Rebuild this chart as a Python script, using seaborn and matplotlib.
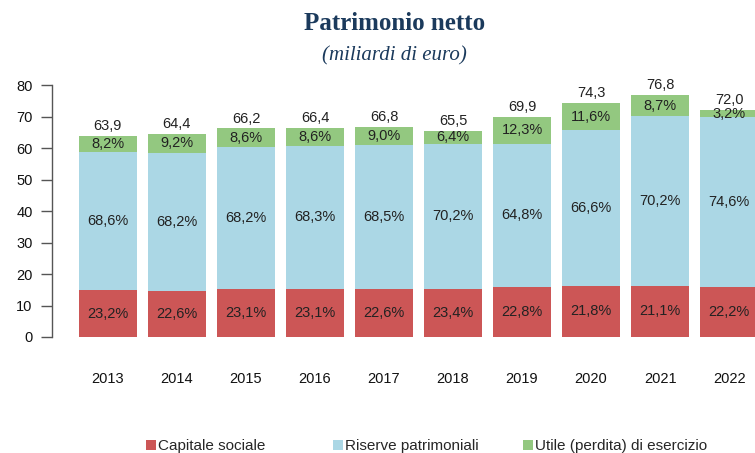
import numpy as np
import pandas as pd
import seaborn as sns
import matplotlib.pyplot as plt
from matplotlib.patches import Patch

sns.set_theme(style="white")
plt.rcParams['font.family'] = ['Liberation Sans', 'DejaVu Sans']

years = ["2013", "2014", "2015", "2016", "2017", "2018", "2019", "2020", "2021", "2022"]
totale = [63.9, 64.4, 66.2, 66.4, 66.8, 65.5, 69.9, 74.3, 76.8, 72.0]
pct_capitale = [23.2, 22.6, 23.1, 23.1, 22.6, 23.4, 22.8, 21.8, 21.1, 22.2]
pct_riserve = [68.6, 68.2, 68.2, 68.3, 68.5, 70.2, 64.8, 66.6, 70.2, 74.6]
pct_utile = [8.2, 9.2, 8.6, 8.6, 9.0, 6.4, 12.3, 11.6, 8.7, 3.2]

labels = ["Capitale sociale", "Riserve patrimoniali", "Utile (perdita) di esercizio"]
colors = ["#CC5656", "#ABD7E5", "#93C880"]

df = pd.DataFrame({"anno": years, "totale": totale,
                   "cap": pct_capitale, "ris": pct_riserve, "ut": pct_utile})
df["h_cap"] = df["totale"] * df["cap"] / 100
df["h_ris"] = df["totale"] * df["ris"] / 100
df["h_ut"] = df["totale"] - df["h_cap"] - df["h_ris"]
df["top_ris"] = df["h_cap"] + df["h_ris"]

fig = plt.figure(figsize=(7.55, 4.53), dpi=100)
ax = fig.add_axes([52 / 755, 116 / 453, 733 / 755, 252 / 453])

# stacked look: draw cumulative heights from the top layer down
for col, c in [("totale", colors[2]), ("top_ris", colors[1]), ("h_cap", colors[0])]:
    sns.barplot(data=df, x="anno", y=col, color=c, saturation=1, width=0.84,
                linewidth=0, ax=ax)

fs = 10.5
for i, r in df.iterrows():
    ax.text(i, r["h_cap"] / 2, f"{r['cap']:.1f}%".replace(".", ","),
            ha="center", va="center", fontsize=fs, color="#222222")
    ax.text(i, r["h_cap"] + r["h_ris"] / 2, f"{r['ris']:.1f}%".replace(".", ","),
            ha="center", va="center", fontsize=fs, color="#222222")
    ax.text(i, r["top_ris"] + r["h_ut"] / 2, f"{r['ut']:.1f}%".replace(".", ","),
            ha="center", va="center", fontsize=fs, color="#222222")
    ax.annotate(f"{r['totale']:.1f}".replace(".", ","), (i, r["totale"]),
                xytext=(0, 2), textcoords="offset points",
                ha="center", va="bottom", fontsize=fs, color="#222222")

ax.set_xlim(-0.81, 9.81)
ax.set_ylim(0, 80)
ax.set_yticks(range(0, 81, 10))
ax.set_xlabel("")
ax.set_ylabel("")
for s in ["top", "right", "bottom"]:
    ax.spines[s].set_visible(False)
ax.spines["left"].set_color("#555555")
ax.spines["left"].set_linewidth(1)
ax.tick_params(axis="y", which="both", left=True, direction="out", length=8,
               width=1, color="#555555", labelsize=10.5, pad=6, labelcolor="#111111")
ax.tick_params(axis="x", bottom=False, labelsize=10.5, pad=19, labelcolor="#111111")

fig.text(0.523, 0.948, "Patrimonio netto", ha="center", va="center",
         family="Liberation Serif", fontweight="bold", fontsize=18, color="#1B3A5C")
fig.text(0.523, 0.876, "(miliardi di euro)", ha="center", va="center",
         family="Liberation Serif", style="italic", fontsize=15, color="#1B3A5C")

xs = [146, 333, 523]
for lab, col, x in zip(labels, colors, xs):
    fig.legend(handles=[Patch(facecolor=col, edgecolor="none")], labels=[lab],
               loc="center left", bbox_to_anchor=(x / 755, 1 - 446 / 453),
               frameon=False, fontsize=11, handlelength=0.65, handleheight=0.65,
               handletextpad=0.15, borderpad=0, borderaxespad=0)

fig.savefig("out.png", dpi=100)
